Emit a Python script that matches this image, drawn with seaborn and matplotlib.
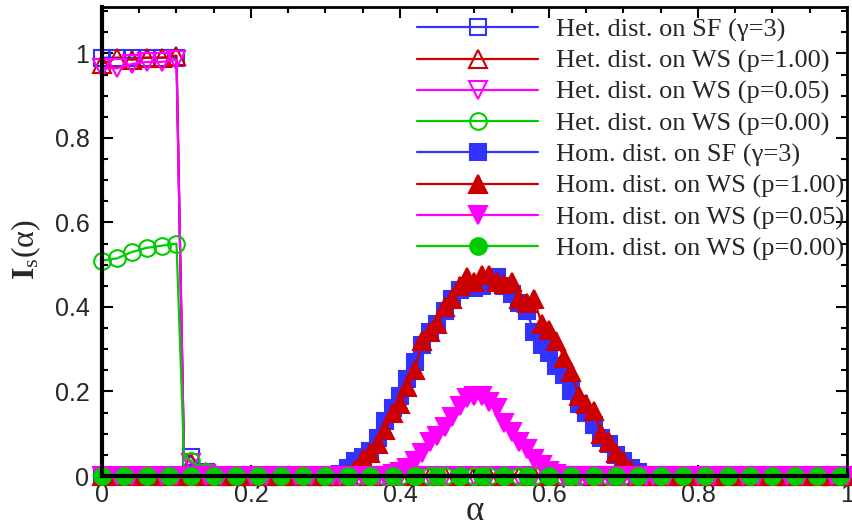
import numpy as np
import pandas as pd
import matplotlib
matplotlib.use("Agg")
import matplotlib.pyplot as plt
import seaborn as sns
from matplotlib.ticker import MultipleLocator

sns.set_theme(style="white")
plt.rcParams['font.family'] = ['Liberation Sans', 'DejaVu Sans']
plt.rcParams['mathtext.fontset'] = 'custom'
plt.rcParams['mathtext.rm'] = 'Liberation Serif'
plt.rcParams['mathtext.it'] = 'Liberation Serif:italic'
plt.rcParams['mathtext.bf'] = 'Liberation Serif:bold'

# ---------------- data ----------------
# heterogeneous distribution series (alpha grid)
het_x = [0.00, 0.02, 0.04, 0.06, 0.08, 0.10, 0.11] + [round(0.12 + 0.02 * i, 2) for i in range(45)]
het_sf = [0.99, 0.99, 0.99, 0.99, 0.99, 0.99, 0.05, 0.045, 0.01] + [0.0] * 43
het_ws_p100 = [0.975, 0.99, 0.985, 0.99, 0.99, 0.995, 0.05, 0.03, 0.01] + [0.0] * 43
het_ws_p005 = [0.965, 0.965, 0.975, 0.98, 0.98, 0.985, 0.05, 0.03, 0.005] + [0.0] * 43
het_ws_p000 = [0.51, 0.515, 0.53, 0.54, 0.545, 0.55, 0.05, 0.035, 0.01] + [0.0] * 43

# homogeneous distribution series
hom_x = ([round(0.02 * i, 2) for i in range(16)]
         + [round(0.31 + 0.01 * i, 2) for i in range(43)]
         + [round(0.74 + 0.02 * i, 2) for i in range(14)])
hom_sf_peak = [0, 0.005, 0.02, 0.035, 0.045, 0.06, 0.09, 0.13, 0.16, 0.19, 0.23, 0.27, 0.31, 0.34,
               0.36, 0.39, 0.42, 0.44, 0.45, 0.445, 0.45, 0.46, 0.47, 0.45, 0.43, 0.41, 0.39, 0.34,
               0.31, 0.29, 0.26, 0.24, 0.20, 0.17, 0.15, 0.12, 0.09, 0.075, 0.05, 0.035, 0.02, 0.01, 0]
hom_ws_p100_peak = [0, 0, 0.005, 0.015, 0.04, 0.055, 0.075, 0.11, 0.15, 0.17, 0.21, 0.25, 0.32, 0.34,
                    0.36, 0.40, 0.42, 0.45, 0.47, 0.46, 0.475, 0.475, 0.46, 0.455, 0.46, 0.42, 0.41,
                    0.42, 0.36, 0.345, 0.32, 0.28, 0.245, 0.19, 0.17, 0.155, 0.10, 0.08, 0.055, 0.035,
                    0.015, 0.005, 0]
hom_ws_p005_peak = [0] * 8 + [0.005, 0.01, 0.02, 0.035, 0.055, 0.08, 0.095, 0.115, 0.14, 0.165, 0.185,
                              0.19, 0.19, 0.175, 0.16, 0.125, 0.105, 0.08, 0.065, 0.04, 0.025, 0.012,
                              0.005] + [0] * 12
hom_sf = [0.0] * 16 + hom_sf_peak + [0.0] * 14
hom_ws_p100 = [0.0] * 16 + hom_ws_p100_peak + [0.0] * 14
hom_ws_p005 = [0.0] * 16 + hom_ws_p005_peak + [0.0] * 14
hom_p0_x = [round(0.03 * i, 2) for i in range(34)]
hom_ws_p000 = [0.0] * 34

labels = ["Het. dist. on SF (\u03b3=3)", "Het. dist. on WS (p=1.00)",
          "Het. dist. on WS (p=0.05)", "Het. dist. on WS (p=0.00)",
          "Hom. dist. on SF (\u03b3=3)", "Hom. dist. on WS (p=1.00)",
          "Hom. dist. on WS (p=0.05)", "Hom. dist. on WS (p=0.00)"]

BLUE = '#3333FF'
RED = '#CC0000'
MAG = '#FF00FF'
GREEN = '#00CC00'

series = [
    (het_x, het_sf, BLUE, 's', True, 11),
    (het_x, het_ws_p100, RED, '^', True, 13),
    (het_x, het_ws_p005, MAG, 'v', True, 13),
    (het_x, het_ws_p000, GREEN, 'o', True, 12),
    (hom_x, hom_sf, BLUE, 's', False, 11),
    (hom_x, hom_ws_p100, RED, '^', False, 13),
    (hom_x, hom_ws_p005, MAG, 'v', False, 13),
    (hom_p0_x, hom_ws_p000, GREEN, 'o', False, 12),
]

fig = plt.figure(figsize=(8.53, 5.29), dpi=100)
ax = fig.add_axes([102 / 853, 1 - 476 / 529, (847 - 102) / 853, (476 - 7) / 529])

het_mark = [i for i in range(len(het_x)) if i != 6]
for (x, y, c, m, hollow, ms), lab in zip(series, labels):
    df = pd.DataFrame({"x": x, "y": y})
    kw = dict(color=c, marker=m, markersize=ms, linewidth=1.6,
              markeredgecolor=c, markeredgewidth=1.5, clip_on=False)
    if hollow:
        kw['markerfacecolor'] = 'none'
        kw['markevery'] = het_mark
    else:
        kw['markerfacecolor'] = c
    sns.lineplot(data=df, x="x", y="y", ax=ax, estimator=None, sort=False,
                 label=lab, **kw)

ax.set_xlim(0, 1)
ax.set_ylim(0, 1.11)
ax.xaxis.set_minor_locator(MultipleLocator(0.05))
ax.yaxis.set_minor_locator(MultipleLocator(0.05))
ax.set_xticks([0, 0.2, 0.4, 0.6, 0.8, 1.0])
ax.set_xticklabels(['0', '0.2', '0.4', '0.6', '0.8', '1'])
ax.set_yticks([0, 0.2, 0.4, 0.6, 0.8, 1.0])
ax.set_yticklabels(['0', '0.2', '0.4', '0.6', '0.8', '1'])
ax.tick_params(which='both', direction='in', top=True, right=True, bottom=True, left=True,
               color='black', width=1.5)
ax.tick_params(which='major', length=8, labelsize=18)
ax.tick_params(axis='x', which='major', pad=5)
ax.tick_params(axis='y', which='major', pad=9)
ax.tick_params(which='minor', length=4)
for s in ax.spines.values():
    s.set_color('black')
    s.set_linewidth(2)
ax.spines['left'].set_linewidth(3)
ax.spines['bottom'].set_linewidth(3)

ax.set_xlabel('\u03b1', fontsize=25, family='Liberation Serif', va='baseline')
ax.xaxis.set_label_coords(0.5, (476 - 520) / 469)
ax.set_ylabel('$\\mathbf{I}_{\\mathrm{s}}(\\mathrm{\u03b1})$', fontsize=23, va='center')
ax.yaxis.set_label_coords((26 - 102) / 745, 0.5 + (469 / 2 - (250 - 7)) / 469)

leg = ax.legend(loc='upper left', bbox_to_anchor=(417 / 853, 1 - 18 / 529),
                bbox_transform=fig.transFigure, frameon=False, borderpad=0,
                borderaxespad=0, handlelength=4.6, handletextpad=0.65,
                labelspacing=0.28, prop={'family': 'Liberation Serif', 'size': 19})

fig.savefig("out.png", dpi=100)
